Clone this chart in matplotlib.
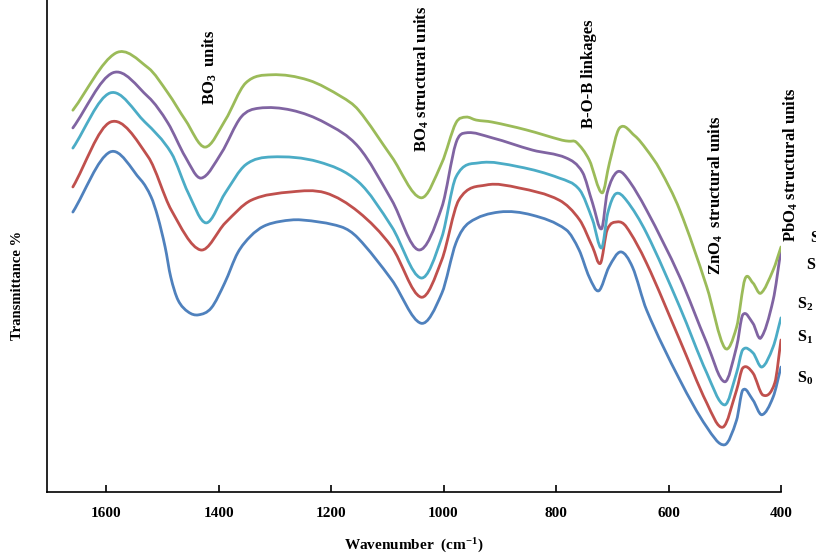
import matplotlib
matplotlib.use('Agg')
import matplotlib.pyplot as plt
from matplotlib.path import Path
from matplotlib.patches import PathPatch

plt.rcParams['font.family'] = 'Liberation Serif'
plt.rcParams['font.weight'] = 'bold'
plt.rcParams['mathtext.fontset'] = 'custom'
plt.rcParams['mathtext.rm'] = 'Liberation Serif:bold'
plt.rcParams['mathtext.it'] = 'Liberation Serif:italic:bold'
plt.rcParams['mathtext.bf'] = 'Liberation Serif:bold'

COLORS = ['#4F81BD', '#C0504D', '#4BACC6', '#8064A2', '#9BBB59']
LABELS = [r'S$_{\mathrm{0}}$', r'S$_{\mathrm{1}}$', r'S$_{\mathrm{2}}$',
          r'S$_{\mathrm{3}}$', r'S$_{\mathrm{4}}$']

wn_s0 = [1659, 1593, 1538, 1520, 1508, 1495, 1485, 1472, 1454, 1436, 1413, 1389, 1366, 1343,
         1320, 1290, 1253, 1182, 1152, 1092, 1040, 1003, 978, 955, 901, 843, 782, 759, 741, 724,
         706, 685, 664, 639, 580, 532, 500, 479, 468, 450, 434, 414, 400]
t_s0 = [56.9, 69.1, 63.4, 60.0, 55.9, 49.8, 43.7, 39.0, 36.6, 36.0, 37.4, 42.5, 48.6, 52.0,
        54.0, 55.0, 55.3, 53.9, 51.6, 43.1, 34.3, 40.4, 50.6, 54.7, 56.9, 56.3, 53.3, 49.2, 43.7, 40.9,
        45.7, 48.8, 45.7, 37.0, 22.8, 13.2, 9.6, 14.6, 20.7, 18.7, 15.7, 19.3, 25.4]

wn_s1 = [1659, 1592, 1525, 1484, 1432, 1388, 1342, 1270, 1210, 1151, 1092, 1040, 1003, 973,
         924, 866, 794, 758, 735, 721, 709, 691, 675, 639, 580, 532, 503, 479, 468, 450,
         432, 411, 400]
t_s1 = [62.0, 75.2, 68.1, 57.3, 49.2, 54.7, 59.3, 61.0, 60.8, 56.9, 49.8, 39.6, 47.2, 59.3,
        62.4, 61.8, 59.3, 55.3, 49.8, 46.5, 53.3, 54.9, 53.9, 46.5, 30.9, 18.1, 13.2, 20.7, 25.2, 24.2,
        19.7, 22.2, 30.9]

wn_s2 = [1659, 1593, 1531, 1484, 1454, 1422, 1388, 1352, 1306, 1222, 1151, 1092, 1040, 1003,
         978, 937, 866, 794, 758, 735, 719, 708, 694, 675, 639, 580, 532, 500, 479, 468,
         450, 434, 414, 400]
t_s2 = [69.9, 81.1, 75.2, 68.9, 60.8, 54.7, 60.8, 66.5, 68.1, 67.1, 63.0, 53.9, 43.5, 51.8,
        64.0, 66.9, 66.1, 63.8, 61.4, 55.3, 49.6, 56.7, 60.6, 59.3, 52.6, 37.6, 24.2, 17.7, 24.2, 28.9,
        28.3, 25.4, 29.5, 35.4]

wn_s3 = [1659, 1588, 1525, 1490, 1459, 1431, 1395, 1360, 1329, 1270, 1210, 1151, 1092, 1044,
         1003, 978, 960, 914, 842, 782, 753, 735, 719, 709, 692, 675, 639, 580, 532, 500,
         479, 468, 450, 436, 414, 400]
t_s3 = [74.0, 85.2, 80.3, 75.0, 68.1, 63.8, 68.9, 76.2, 78.0, 77.6, 75.0, 70.1, 59.3, 49.2,
        57.9, 70.9, 73.0, 72.0, 69.5, 67.9, 65.0, 58.7, 53.5, 60.8, 65.0, 64.0, 57.3, 43.7, 30.3, 22.4,
        29.5, 36.0, 34.3, 31.3, 39.0, 49.2]

wn_s4 = [1659, 1583, 1525, 1490, 1459, 1424, 1388, 1352, 1306, 1240, 1181, 1151, 1092, 1040,
         1003, 978, 960, 942, 914, 853, 789, 777, 764, 741, 718, 705, 687, 660, 639, 615,
         580, 532, 500, 479, 464, 450, 436, 414, 400]
t_s4 = [77.6, 89.2, 86.2, 81.1, 75.6, 70.1, 75.6, 83.1, 84.8, 83.7, 80.3, 77.6, 68.1, 59.8,
        66.9, 75.0, 76.2, 75.6, 75.2, 73.6, 71.5, 71.3, 71.1, 67.5, 60.8, 66.9, 74.0, 72.4, 69.6, 65.5,
        57.3, 41.7, 29.3, 33.5, 43.3, 42.5, 40.4, 45.1, 49.8]

SERIES = [(wn_s0, t_s0), (wn_s1, t_s1), (wn_s2, t_s2), (wn_s3, t_s3), (wn_s4, t_s4)]

# series labels at the right end (wavenumber, transmittance)
label_wn = [371, 371, 371, 355, 348]
label_t = [23.2, 31.5, 38.2, 46.1, 51.6]

BANDS = ['BO$_{\\mathrm{3}}$  units', 'BO$_{\\mathrm{4}}$ structural units', 'B-O-B linkages',
         'ZnO$_{\\mathrm{4}}$  structural units', 'PbO$_{\\mathrm{4}}$ structural units']
band_wn = [1415, 1039, 741, 516, 382]
band_t = [78.7, 69.1, 74.0, 44.1, 50.8]


def smooth_path(x, y):
    # cubic hermite through the points, slopes from neighbours
    n = len(x)
    m = []
    for i in range(n):
        a = max(i - 1, 0)
        b = min(i + 1, n - 1)
        m.append((y[b] - y[a]) / (x[b] - x[a]))
    verts = [(x[0], y[0])]
    codes = [Path.MOVETO]
    for i in range(n - 1):
        h = (x[i + 1] - x[i]) / 3
        verts += [(x[i] + h, y[i] + m[i] * h), (x[i + 1] - h, y[i + 1] - m[i + 1] * h),
                  (x[i + 1], y[i + 1])]
        codes += [Path.CURVE4] * 3
    return Path(verts, codes)


fig = plt.figure(figsize=(8.16, 5.56), dpi=100)
ax = fig.add_axes([47 / 816, 64 / 556, (781 - 47) / 816, 492 / 556])

for (x, y), c in zip(SERIES, COLORS):
    ax.add_patch(PathPatch(smooth_path(x, y), fill=False, edgecolor=c, lw=2.0,
                           capstyle='round', joinstyle='round'))

for w, t, lab in zip(label_wn, label_t, LABELS):
    ax.text(w, t, lab, fontsize=11.5, fontweight='bold', ha='left', va='center', clip_on=False)

for w, t, lab in zip(band_wn, band_t, BANDS):
    ax.text(w, t, lab, fontsize=12, fontweight='bold', rotation=90, ha='center', va='bottom',
            clip_on=False)

ax.set_xlim(1705, 400)
ax.set_ylim(0, 100)
ax.set_xticks([1600, 1400, 1200, 1000, 800, 600, 400])
ax.set_yticks([])
ax.tick_params(axis='x', direction='in', length=5, width=1.2, labelsize=11, pad=11)
for lbl in ax.get_xticklabels():
    lbl.set_fontweight('bold')
ax.spines['top'].set_visible(False)
ax.spines['right'].set_visible(False)
ax.spines['left'].set_linewidth(1.2)
ax.spines['bottom'].set_linewidth(1.2)

ax.set_xlabel('Wavenumber  (cm$^{\\mathrm{-1}}$)', fontsize=11, fontweight='bold', labelpad=12)
fig.text(18 / 816, 1 - 285 / 556, 'Transmittance %', rotation=90, fontsize=10.5,
         fontweight='bold', ha='center', va='center')

fig.savefig('out.png', dpi=100)
